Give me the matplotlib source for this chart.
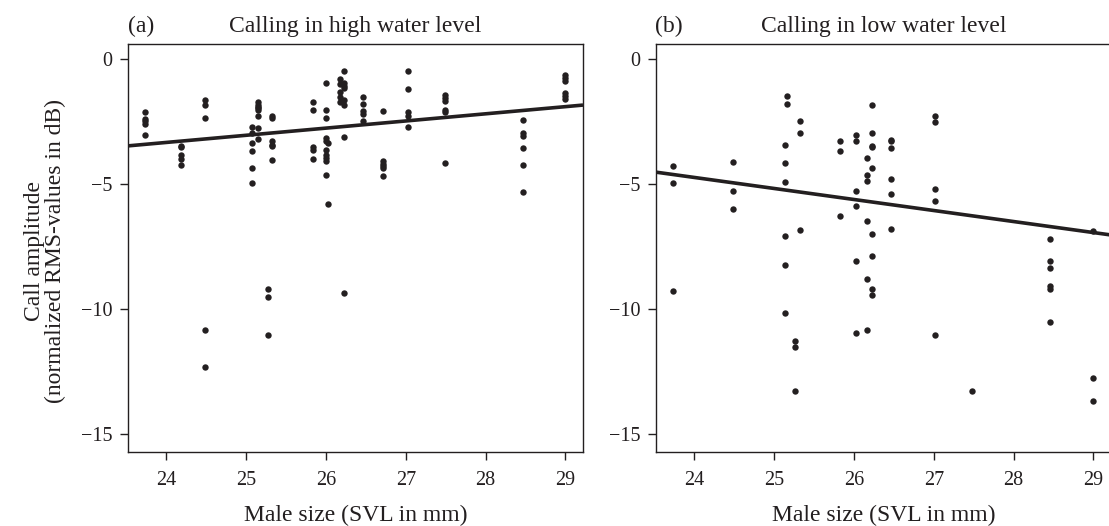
import matplotlib
matplotlib.use("Agg")
import matplotlib.pyplot as plt
import numpy as np

# ── data ─────────────────────────────────────────────────────────────
# male size (SVL, mm) per calling male and his call amplitudes (dB)
high_svl = [23.73, 24.18, 24.49, 25.07, 25.15, 25.27, 25.33, 25.84, 26.00,
            26.03, 26.17, 26.23, 26.47, 26.71, 27.03, 27.49, 28.47, 29.00]
high_amp = [
    [-2.15, -2.41, -2.51, -2.60, -3.04],
    [-3.48, -3.55, -3.84, -4.01, -4.24],
    [-1.64, -1.84, -2.37, -10.84, -12.31],
    [-2.75, -2.97, -3.37, -3.71, -4.37, -4.97],
    [-1.75, -1.84, -1.92, -1.99, -2.07, -2.28, -2.77, -3.20],
    [-9.21, -9.51, -11.04],
    [-2.28, -2.37, -3.31, -3.44, -3.51, -4.04],
    [-1.75, -2.04, -3.53, -3.64, -4.00],
    [-0.99, -2.04, -2.37, -3.17, -3.31, -3.64, -3.84, -3.97, -4.11, -4.64],
    [-3.37, -5.80],
    [-0.81, -1.01, -1.35, -1.53, -1.75],
    [-0.51, -0.97, -1.11, -1.17, -1.67, -1.84, -3.13, -9.35],
    [-1.53, -1.80, -2.11, -2.20, -2.51],
    [-2.11, -4.11, -4.20, -4.28, -4.37, -4.71],
    [-0.48, -1.21, -2.15, -2.28, -2.75],
    [-1.44, -1.57, -1.68, -2.04, -2.15, -4.17],
    [-2.47, -2.97, -3.08, -3.57, -4.24, -5.35],
    [-0.64, -0.77, -0.91, -1.37, -1.51, -1.61],
]

low_svl = [23.73, 24.48, 25.14, 25.16, 25.26, 25.32, 25.83, 26.02, 26.16,
           26.23, 26.46, 27.02, 27.48, 28.46, 29.00]
low_amp = [
    [-4.31, -4.97, -9.28],
    [-4.13, -5.31, -6.01],
    [-3.44, -4.17, -4.92, -7.11, -8.25, -10.17],
    [-1.51, -1.80],
    [-11.27, -11.52, -13.28],
    [-2.48, -2.97, -6.84],
    [-3.31, -3.68, -6.28],
    [-3.05, -3.28, -5.28, -5.91, -8.08, -10.95],
    [-3.97, -4.64, -4.89, -6.48, -8.80, -10.84],
    [-1.87, -2.97, -3.48, -3.53, -4.36, -7.00, -7.87, -9.21, -9.44],
    [-3.24, -3.31, -3.59, -4.81, -5.40, -6.80],
    [-2.28, -2.55, -5.20, -5.71, -11.05],
    [-13.28],
    [-7.23, -8.08, -8.37, -9.07, -9.21, -10.53],
    [-6.88, -12.77, -13.67],
]

# regression lines (end points across the x range)
fit_x = [23.52, 29.22]
fit_high = [-3.49, -1.86]
fit_low = [-4.54, -7.05]

panel_tags = ["(a)", "(b)"]
panel_titles = ["Calling in high water level", "Calling in low water level"]
x_ticks = [24, 25, 26, 27, 28, 29]
y_ticks = [0, -5, -10, -15]
# ─────────────────────────────────────────────────────────────────────

INK = "#231f20"
plt.rcParams["font.family"] = ["Liberation Serif", "DejaVu Serif"]

W, H = 1109, 526
LABEL_FS = 17
TICK_FS = 14.5


def flatten(svl, amp):
    xs = [s for s, vals in zip(svl, amp) for _ in vals]
    ys = [v for vals in amp for v in vals]
    return np.array(xs), np.array(ys)


fig = plt.figure(figsize=(W / 100, H / 100), dpi=100)
# axes boxes in pixels: left, top, right, bottom
boxes = [(128, 43.5, 583, 451.5), (656, 43.5, 1111, 451.5)]
axes = [fig.add_axes([l / W, 1 - b / H, (r - l) / W, (b - t) / H])
        for l, t, r, b in boxes]

panels = [(high_svl, high_amp, fit_high), (low_svl, low_amp, fit_low)]

for ax, (svl, amp, fit), (l, t, r, b), tag, title in zip(
        axes, panels, boxes, panel_tags, panel_titles):
    xs, ys = flatten(svl, amp)
    ax.plot(xs, ys, "o", ms=4.6, color=INK, mec="none", zorder=3)
    ax.plot(fit_x, fit, color=INK, lw=2.6, solid_capstyle="butt", zorder=2)
    ax.set_xlim(fit_x[0], fit_x[1])
    ax.set_ylim(-15.7, 0.6)
    ax.set_xticks(x_ticks)
    ax.set_yticks(y_ticks)
    ax.tick_params(direction="out", length=6, width=1, color=INK,
                   labelcolor=INK, labelsize=TICK_FS, pad=5)
    ax.tick_params(axis="x", pad=8)
    for sp in ax.spines.values():
        sp.set_color(INK)
        sp.set_linewidth(1)
    ax.set_xlabel("Male size (SVL in mm)", color=INK, fontsize=LABEL_FS,
                  labelpad=11)

    # panel tag and title above each box
    fig.text((l + 13) / W, 1 - 32 / H, tag, ha="center", va="baseline",
             color=INK, fontsize=LABEL_FS)
    fig.text((l + r) / 2 / W, 1 - 32 / H, title, ha="center", va="baseline",
             color=INK, fontsize=LABEL_FS)

fig.text(45 / W, 1 - 251 / H, "Call amplitude\n(normalized RMS-values in dB)",
         rotation=90, ha="center", va="center", color=INK, fontsize=LABEL_FS,
         multialignment="center", linespacing=0.95)

fig.savefig("out.png", dpi=100, facecolor="white")
